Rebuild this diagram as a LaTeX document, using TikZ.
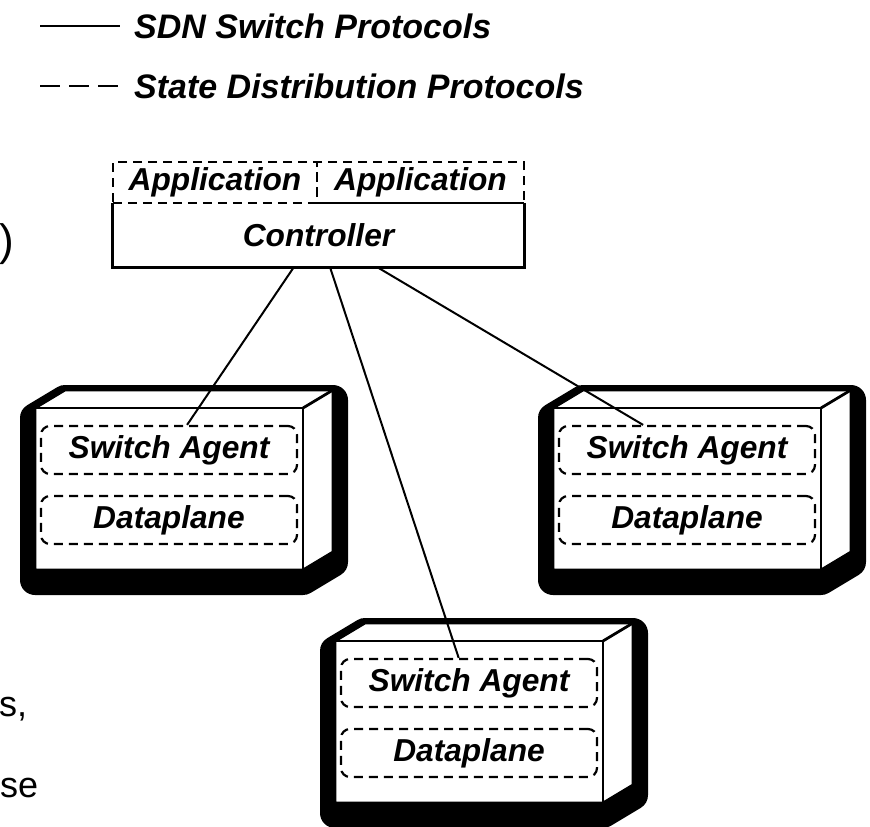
\documentclass[tikz,border=0pt]{standalone}
\usepackage{fontspec}
\setmainfont{Liberation Sans}
\usetikzlibrary{calc}
\tikzset{
  boxline/.style={draw=black, line width=2.8pt, line join=miter},
  dashbox/.style={draw=black, line width=2.2pt, dash pattern=on 9pt off 6pt},
  inner/.style={dashbox, rounded corners=9pt, inner sep=0pt, font=\fontsize{31.7pt}{36pt}\selectfont\bfseries\itshape},
  cell/.style={inner sep=0pt, font=\fontsize{31.7pt}{36pt}\selectfont\bfseries\itshape},
  legend/.style={inner sep=0pt, anchor=west, font=\fontsize{34pt}{38pt}\selectfont\bfseries\itshape},
  frag/.style={inner sep=0pt, font=\fontsize{36pt}{40pt}\selectfont},
  link/.style={draw=black, line width=2pt},
  shadowfill/.style={fill=black, draw=black, line width=30pt, line join=round},
}
\newcommand\swbox[3]{%
  \begin{scope}[shift={(#2,#3)}]
    \path[shadowfill, shift={(0,10)}] (0,0) -- (30,-18) -- (298,-18) -- (298,144) -- (268,162) -- (0,162) -- cycle;
    \path[boxline, fill=white] (0,0) -- (30,-18) -- (298,-18) -- (298,144) -- (268,162) -- (0,162) -- cycle;
    \draw[boxline] (0,0) -- (268,0) -- (268,162);
    \draw[boxline] (268,0) -- (298,-18);
    \node[inner, minimum width=256pt, minimum height=48pt] (#1a) at (134,42) {Switch Agent};
    \node[inner, minimum width=256pt, minimum height=48pt] (#1d) at (134,112) {Dataplane};
  \end{scope}}
\begin{document}
\begin{tikzpicture}[x=1pt, y=-1pt]
\useasboundingbox[fill=white] (0,0) rectangle (870,827);

% legend
\coordinate (l1a) at (40,26);
\coordinate (l1b) at (120,26);
\coordinate (l2a) at (40,86);
\coordinate (l2b) at (120,86);
\draw[link] (l1a) -- (l1b);
\draw[link, dash pattern=on 20pt off 9pt] (l2a) -- (l2b);
\node[legend] (lt1) at (134,26) {SDN Switch Protocols};
\node[legend] (lt2) at (134,86) {State Distribution Protocols};

% fragments of cropped slide text
\node[frag, anchor=east, font=\fontsize{44pt}{48pt}\selectfont] (f1) at (14,244) {)};
\node[frag, anchor=base west] (f2) at (-1,716) {s,};
\node[frag, anchor=base west] (f3) at (0,797) {se};

% controller
\node[cell, dashbox, minimum width=204pt, minimum height=41pt] (app1) at (215,182.5) {Application};
\node[cell, dashbox, minimum width=207pt, minimum height=41pt] (app2) at (420.5,182.5) {Application};
\node[cell, minimum width=411pt, minimum height=64pt] (ctrl) at (318.5,235) {Controller};
\draw[boxline] (ctrl.north west) -- (ctrl.south west) -- (ctrl.south east) -- (ctrl.north east);
\draw[dashbox] (ctrl.north west) -- (ctrl.north east);

% switches
\swbox{s1}{35}{408}
\swbox{s2}{553}{408}
\swbox{s3}{335}{641}

% connectors
\draw[link] ($(ctrl.south west)!0.44!(ctrl.south east)$) -- ($(s1a.north west)!0.57!(s1a.north east)$);
\draw[link] ($(ctrl.south west)!0.528!(ctrl.south east)$) -- ($(s3a.north west)!0.46!(s3a.north east)$);
\draw[link] ($(ctrl.south west)!0.643!(ctrl.south east)$) -- ($(s2a.north west)!0.33!(s2a.north east)$);
\end{tikzpicture}
\end{document}
